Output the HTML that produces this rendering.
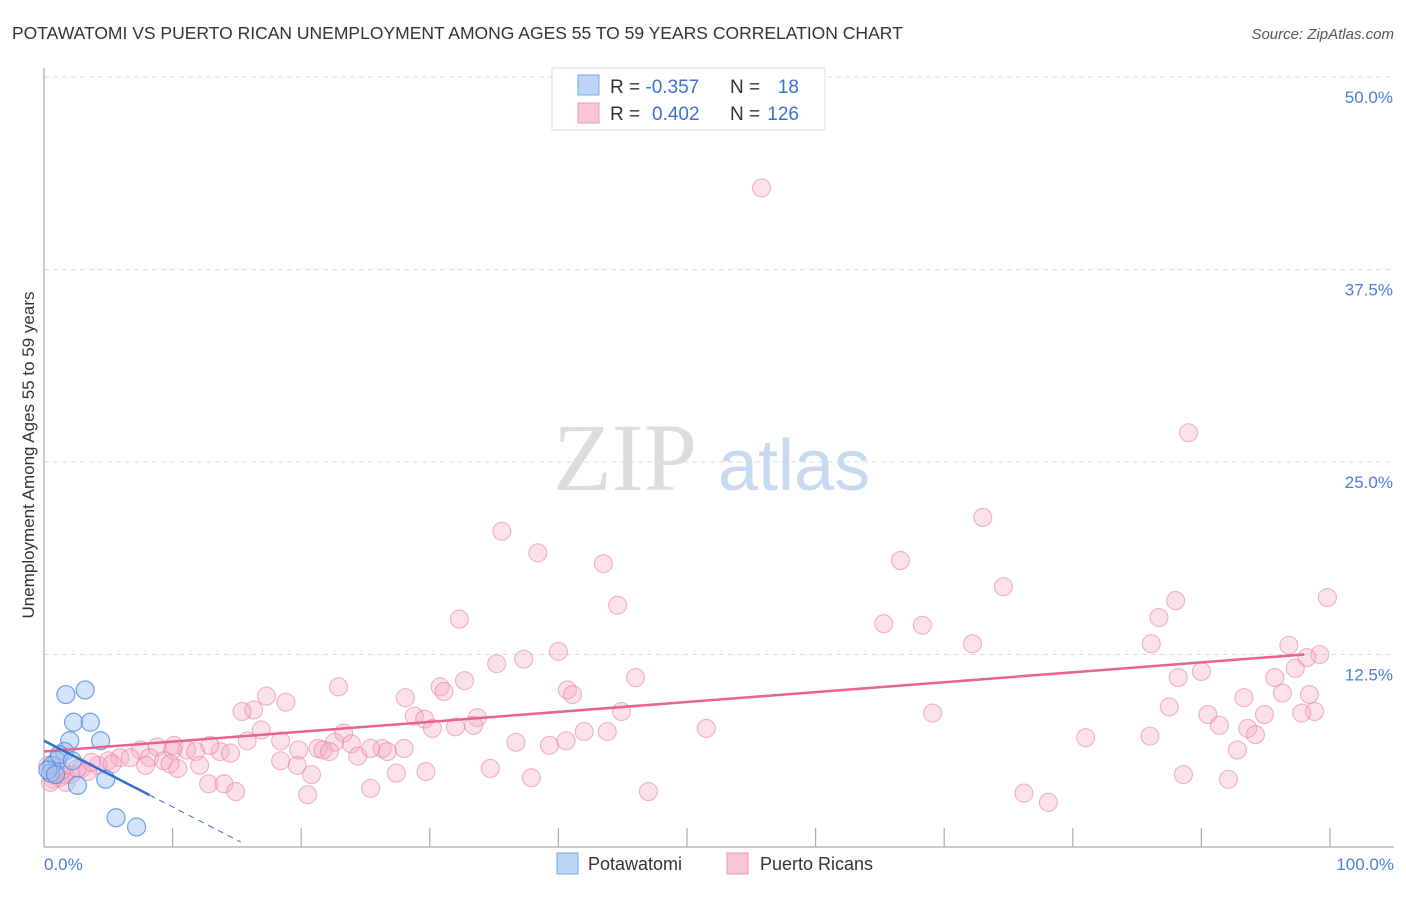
<!DOCTYPE html>
<html><head><meta charset="utf-8"><style>
body{margin:0;background:#fff;font-family:"Liberation Sans",sans-serif;}
svg text{font-family:"Liberation Sans",sans-serif;}
</style></head><body>
<svg width="1406" height="892" viewBox="0 0 1406 892">
<text x="12" y="39" font-size="17.5" fill="#333">POTAWATOMI VS PUERTO RICAN UNEMPLOYMENT AMONG AGES 55 TO 59 YEARS CORRELATION CHART</text>
<text x="1394" y="39" font-size="15" fill="#555" text-anchor="end" font-style="italic">Source: ZipAtlas.com</text>
<g id="grid"></g>
<g id="yticks"></g>
<g id="xticks"></g>
<text x="553" y="490" font-size="96" fill="#ddd" style="font-family:'Liberation Serif',serif">ZIP</text>
<text x="718" y="490" font-size="72" fill="#c9d9f0">atlas</text>
<line x1="44" y1="68" x2="44" y2="847" stroke="#aaa" stroke-width="1.2"/>
<line x1="44" y1="847" x2="1394" y2="847" stroke="#aaa" stroke-width="1.2"/>
<g id="pink"></g>
<g id="blue"></g>
<g id="trends"></g>
<text x="34" y="455" font-size="17" fill="#333" text-anchor="middle" transform="rotate(-90 34 455)">Unemployment Among Ages 55 to 59 years</text>
<text x="44" y="870" font-size="17" fill="#4a7fd4">0.0%</text>
<text x="1394" y="870" font-size="17" fill="#4a7fd4" text-anchor="end">100.0%</text>
<g>
<rect x="552" y="68" width="273" height="62" fill="#fff" stroke="#ddd"/>
<rect x="578" y="75" width="21" height="20" fill="#bcd4f5" stroke="#7aa6e6"/>
<rect x="578" y="103" width="21" height="20" fill="#f8c6d6" stroke="#ec97b4"/>
<text x="610" y="93" font-size="19" fill="#333">R = <tspan fill="#3a72d0">-0.357</tspan></text>
<text x="730" y="93" font-size="19" fill="#333">N = </text><text x="799" y="93" font-size="19" fill="#3a72d0" text-anchor="end">18</text>
<text x="610" y="120" font-size="19" fill="#333">R = </text><text x="652" y="120" font-size="19" fill="#3a72d0">0.402</text>
<text x="730" y="120" font-size="19" fill="#333">N = </text><text x="799" y="120" font-size="19" fill="#3a72d0" text-anchor="end">126</text>
</g>
<g>
<rect x="557" y="853" width="21" height="21" fill="#bcd4f5" stroke="#7aa6e6"/>
<text x="588" y="870" font-size="18" fill="#333">Potawatomi</text>
<rect x="727" y="853" width="21" height="21" fill="#f8c6d6" stroke="#ec97b4"/>
<text x="760" y="870" font-size="18" fill="#333">Puerto Ricans</text>
</g>
</svg>
<script>
const yTickVals=[12.5,25,37.5,50];
const yTickLabels=["12.5%","25.0%","37.5%","50.0%"];
const xTickVals=[10,20,30,40,50,60,70,80,90,100];
const pinkX=[55.8,89.0,73.0,35.6,38.4,43.5,66.6,74.6,44.6,88.0,99.8,86.7,32.3,65.3,68.3,72.2,86.1,96.8,40.0,37.3,99.2,98.2,35.2,97.3,90.0,88.2,32.7,46.0,22.9,30.8,40.7,41.1,31.1,17.3,95.7,96.3,93.3,98.4,28.1,18.8,16.3,15.4,87.5,90.5,69.1,44.9,28.8,29.6,33.7,94.9,98.8,97.8,91.4,93.6,94.2,51.5,16.9,42.0,43.8,32.0,33.4,23.3,30.2,18.4,15.8,86.0,81.0,92.8,23.9,36.7,39.3,40.6,22.6,21.3,19.8,21.7,26.3,26.7,28.0,22.2,24.4,25.4,13.7,14.5,7.5,8.8,10.1,11.1,11.8,12.9,10.0,5.9,6.7,8.2,9.3,12.1,10.4,7.9,5.0,4.2,5.3,9.8,18.4,19.7,20.8,34.7,27.4,29.7,37.9,2.9,2.1,1.2,1.6,3.4,0.7,0.5,12.8,14.0,14.9,20.5,25.4,47.0,76.2,78.1,88.6,92.1,0.9,1.4,2.6,0.3,3.7,1.7];
const pinkY=[42.8,26.9,21.4,20.5,19.1,18.4,18.6,16.9,15.7,16.0,16.2,14.9,14.8,14.5,14.4,13.2,13.2,13.1,12.7,12.2,12.5,12.3,11.9,11.6,11.4,11.0,10.8,11.0,10.4,10.4,10.2,9.9,10.1,9.8,11.0,10.0,9.7,9.9,9.7,9.4,8.9,8.8,9.1,8.6,8.7,8.8,8.5,8.3,8.4,8.6,8.8,8.7,7.9,7.7,7.3,7.7,7.6,7.5,7.5,7.8,7.9,7.4,7.7,6.9,6.9,7.2,7.1,6.3,6.7,6.8,6.6,6.9,6.8,6.4,6.3,6.3,6.4,6.2,6.4,6.2,5.9,6.4,6.2,6.1,6.3,6.5,6.6,6.3,6.2,6.6,6.3,5.8,5.8,5.8,5.6,5.3,5.1,5.3,5.6,5.3,5.4,5.4,5.6,5.3,4.7,5.1,4.8,4.9,4.5,5.1,4.7,4.5,4.7,4.9,4.4,4.2,4.1,4.1,3.6,3.4,3.8,3.6,3.5,2.9,4.7,4.4,4.8,5.0,5.1,5.3,5.5,4.2];
const blueX=[1.7,3.2,2.3,3.6,2.0,4.4,1.6,1.0,0.6,0.5,4.8,2.6,5.6,7.2,1.2,0.3,0.9,2.2];
const blueY=[9.9,10.2,8.1,8.1,6.9,6.9,6.2,5.6,5.3,4.8,4.4,4.0,1.9,1.3,6.0,5.0,4.7,5.6];
const pinkTrend=[6.2,0.0643];   // intercept, slope
const blueTrend=[6.9,-0.43];
const blueSolidEnd=8.2, blueDashEnd=15.3, pinkTrendEnd=98;
const NS="http://www.w3.org/2000/svg";
const sx=v=>44+v*12.86, sy=v=>847-v*15.4;
function mk(tag,attrs,parent){const e=document.createElementNS(NS,tag);for(const k in attrs)e.setAttribute(k,attrs[k]);parent.appendChild(e);return e;}
const grid=document.getElementById('grid'),yt=document.getElementById('yticks'),xt=document.getElementById('xticks');
yTickVals.forEach((v,i)=>{
 const l=mk('line',{x1:44,x2:1394,y1:sy(v),y2:sy(v),stroke:'#ddd','stroke-dasharray':'5,4'},grid);
 
 
 const t=mk('text',{x:1393,y:sy(v)+26,'font-size':17,fill:'#4a7fd4','text-anchor':'end'},yt);
 t.textContent=yTickLabels[i];
 
 
});
xTickVals.forEach(v=>{
 const l=mk('line',{x1:sx(v),x2:sx(v),y1:828,y2:847,stroke:'#aaa','stroke-width':1.2},xt);
 
 
});
const pg=document.getElementById('pink');
pinkX.forEach((x,i)=>{
 const c=mk('circle',{cx:sx(x),cy:sy(pinkY[i]),r:9,fill:'rgba(244,170,195,0.35)',stroke:'rgba(230,120,160,0.55)','stroke-width':1.1},pg);
 
 
});
const bg=document.getElementById('blue');
blueX.forEach((x,i)=>{
 const c=mk('circle',{cx:sx(x),cy:sy(blueY[i]),r:9,fill:'rgba(160,195,240,0.45)',stroke:'rgba(80,140,225,0.8)','stroke-width':1.2},bg);
 
 
});
const tg=document.getElementById('trends');
const f=(t,x)=>t[0]+t[1]*x;
let a=mk('line',{x1:sx(0),y1:sy(f(pinkTrend,0)),x2:sx(pinkTrendEnd),y2:sy(f(pinkTrend,pinkTrendEnd)),stroke:'#e8628f','stroke-width':2.5},tg);


a=mk('line',{x1:sx(0),y1:sy(f(blueTrend,0)),x2:sx(blueSolidEnd),y2:sy(f(blueTrend,blueSolidEnd)),stroke:'#2f6fd0','stroke-width':2.5},tg);


a=mk('line',{x1:sx(blueSolidEnd),y1:sy(f(blueTrend,blueSolidEnd)),x2:sx(blueDashEnd),y2:sy(f(blueTrend,blueDashEnd)),stroke:'#2f6fd0','stroke-width':1,'stroke-dasharray':'6,5'},tg);


</script>
</body></html>
